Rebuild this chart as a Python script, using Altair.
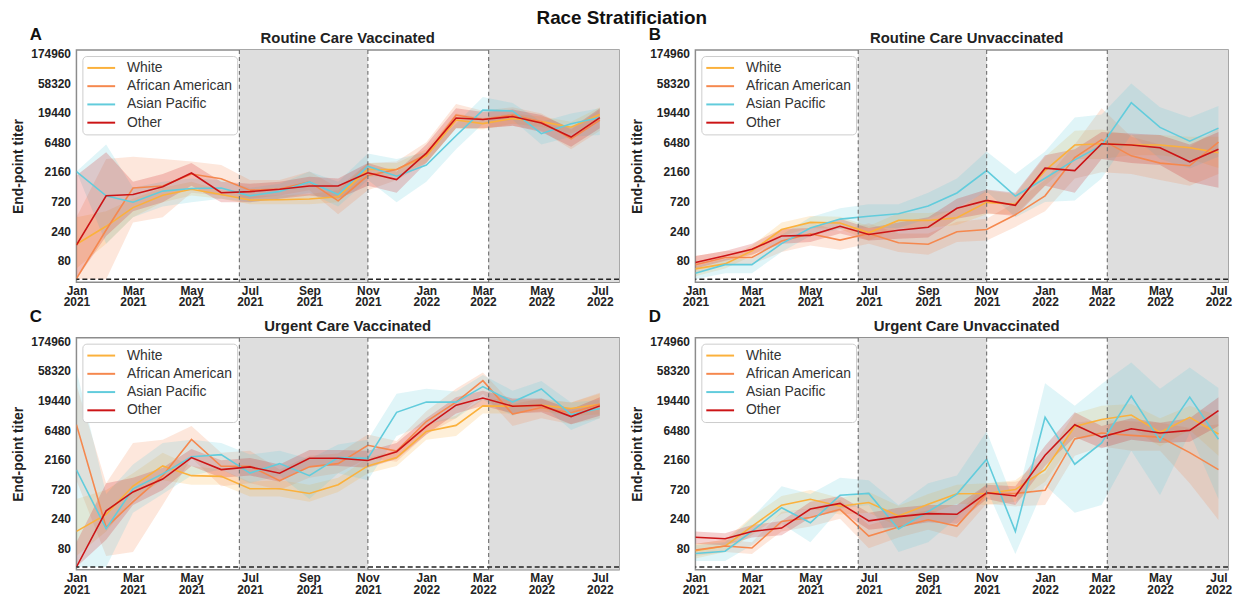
import altair as alt
import pandas as pd

FONT = "Liberation Sans"

MONTHS = ["2021-01-01", "2021-02-01", "2021-03-01", "2021-04-01", "2021-05-01",
          "2021-06-01", "2021-07-01", "2021-08-01", "2021-09-01", "2021-10-01",
          "2021-11-01", "2021-12-01", "2022-01-01", "2022-02-01", "2022-03-01",
          "2022-04-01", "2022-05-01", "2022-06-01", "2022-07-01"]
RACES = ["White", "African American", "Asian Pacific", "Other"]
COLORS = ["#FBB13C", "#F5884E", "#62CCDC", "#CC1416"]
Y_TICKS = [80, 240, 720, 2160, 6480, 19440, 58320, 174960]
X_TICKS = [(2021, 1), (2021, 3), (2021, 5), (2021, 7), (2021, 9), (2021, 11),
           (2022, 1), (2022, 3), (2022, 5), (2022, 7)]
SHADE_START = ["2021-06-20", "2022-03-07"]
SHADE_END = ["2021-11-01", "2022-07-31"]
VLINES = ["2021-06-20", "2021-11-01", "2022-03-07"]
LOD = [40]

# ---- A: Routine Care Vaccinated ----
RCV_WHITE = [147, 287, 575, 910, 1135, 935, 760, 770, 790, 860, 2360, 2360, 3900, 14900, 13000, 15700, 14000, 11400, 18300]
RCV_WHITE_LO = [60, 150, 400, 700, 900, 800, 650, 650, 650, 700, 1800, 1900, 3000, 11000, 10500, 13000, 11500, 9000, 14000]
RCV_WHITE_HI = [400, 500, 800, 1200, 1500, 1100, 900, 900, 950, 1100, 3000, 3000, 5000, 19000, 16000, 19000, 17000, 14000, 24000]
RCV_AA = [41, 250, 1190, 1280, 2000, 1680, 1100, 1150, 1490, 740, 1890, 2360, 4150, 17900, 15200, 17900, 14000, 7400, 14900]
RCV_AA_LO = [40, 40, 330, 400, 1000, 900, 800, 900, 1100, 450, 1100, 1600, 3000, 11000, 11000, 12000, 10000, 5000, 10000]
RCV_AA_HI = [400, 3500, 3800, 3500, 3200, 2800, 1600, 1600, 2200, 1200, 3000, 3200, 6500, 27000, 21000, 24000, 19000, 10500, 22000]
RCV_AP = [2190, 890, 700, 1060, 1170, 1190, 890, 1050, 1490, 935, 2670, 1840, 2790, 8300, 21500, 20800, 8950, 13000, 16300]
RCV_AP_LO = [2190, 150, 400, 600, 700, 800, 700, 800, 1000, 600, 1600, 700, 1500, 5000, 13000, 15000, 6000, 8000, 8500]
RCV_AP_HI = [2190, 6000, 1200, 1500, 1700, 1600, 1200, 1400, 2200, 1500, 4300, 3500, 4500, 13000, 35000, 28000, 14000, 19000, 23000]
RCV_OTHER = [143, 890, 935, 1250, 2080, 1000, 1040, 1135, 1280, 1280, 2100, 1630, 4350, 16000, 15200, 16900, 13300, 7900, 16300]
RCV_OTHER_LO = [40, 200, 500, 700, 1300, 700, 700, 800, 900, 800, 1300, 1000, 3000, 11000, 11000, 12000, 9500, 5500, 11000]
RCV_OTHER_HI = [1900, 4500, 1500, 2000, 3000, 1500, 1400, 1500, 1800, 1700, 3000, 2200, 6000, 23000, 20000, 22000, 18000, 11000, 23000]

# ---- B: Routine Care Unvaccinated ----
RCU_WHITE = [59, 71, 115, 254, 332, 325, 225, 357, 357, 395, 697, 650, 2270, 5870, 6150, 5870, 5870, 5300, 4430]
RCU_WHITE_LO = [45, 60, 95, 200, 270, 260, 170, 270, 270, 300, 450, 450, 1300, 3500, 3500, 4000, 4000, 3500, 2500]
RCU_WHITE_HI = [75, 85, 140, 330, 420, 410, 290, 470, 470, 520, 1100, 950, 3800, 10000, 10500, 8500, 8500, 8000, 8000]
RCU_AA = [69, 90, 90, 166, 217, 172, 220, 156, 147, 234, 254, 440, 890, 3700, 7200, 3930, 3000, 2720, 6540]
RCU_AA_LO = [50, 70, 70, 110, 140, 120, 150, 110, 100, 160, 170, 280, 500, 1700, 2140, 2000, 1600, 1300, 2000]
RCU_AA_HI = [95, 115, 115, 250, 330, 240, 320, 220, 220, 340, 380, 700, 1600, 6000, 23000, 8000, 6000, 5500, 11000]
RCU_AP = [50, 69, 69, 151, 270, 375, 418, 456, 608, 990, 2270, 880, 1710, 3390, 5800, 28300, 11300, 6780, 11000]
RCU_AP_LO = [40, 50, 50, 110, 200, 260, 270, 270, 380, 560, 1050, 400, 710, 750, 1700, 8700, 3500, 2460, 3800]
RCU_AP_HI = [65, 85, 85, 210, 400, 560, 650, 650, 1000, 1700, 4600, 2000, 4600, 16300, 18300, 58000, 24000, 16300, 25000]
RCU_OTHER = [75, 96, 122, 200, 205, 287, 212, 248, 277, 560, 750, 625, 2490, 2270, 6150, 5870, 5300, 3150, 5030]
RCU_OTHER_LO = [60, 80, 100, 150, 160, 220, 170, 180, 190, 380, 465, 420, 1300, 1000, 3500, 3000, 2800, 1500, 1200]
RCU_OTHER_HI = [95, 115, 150, 260, 270, 380, 270, 330, 400, 800, 1130, 1000, 4000, 5000, 9500, 9000, 8500, 6000, 9500]

# ---- C: Urgent Care Vaccinated ----
UCV_WHITE = [150, 283, 810, 1710, 1190, 1160, 730, 730, 615, 850, 1710, 2330, 6150, 7700, 15900, 15700, 16300, 14400, 16900]
UCV_WHITE_LO = [60, 150, 500, 1000, 850, 850, 550, 550, 450, 650, 1300, 1700, 4500, 5200, 12000, 12000, 13000, 11000, 11500]
UCV_WHITE_HI = [500, 700, 1300, 2800, 1700, 1500, 950, 1000, 850, 1100, 2300, 3100, 8000, 11000, 21000, 20000, 20000, 18000, 25000]
UCV_AA = [7900, 174, 450, 1190, 4560, 1690, 1690, 990, 1650, 1860, 3680, 2960, 8880, 18300, 40500, 11700, 15000, 12300, 16900]
UCV_AA_LO = [1000, 60, 70, 400, 2300, 800, 900, 700, 1100, 1300, 2300, 2000, 5500, 10000, 25000, 7500, 10000, 8000, 10000]
UCV_AA_HI = [35000, 900, 4000, 4500, 7500, 2800, 3000, 1500, 2500, 2700, 5500, 4300, 13000, 30000, 55000, 17000, 21000, 18000, 26000]
UCV_AP = [1470, 166, 730, 1270, 2410, 2600, 1310, 1860, 1190, 2330, 2260, 12500, 18300, 18300, 32500, 18300, 29800, 11500, 14400]
UCV_AP_LO = [40, 40, 300, 600, 1200, 1500, 900, 1200, 500, 1300, 1000, 5200, 8000, 10000, 20000, 11000, 17000, 6500, 10000]
UCV_AP_HI = [60000, 600, 1800, 4000, 4500, 4000, 2600, 3000, 2200, 3800, 4500, 25000, 30000, 27000, 50000, 28000, 40000, 18000, 20000]
UCV_OTHER = [40, 323, 650, 1050, 2330, 1490, 1650, 1300, 2270, 2270, 2090, 2900, 7400, 16300, 21300, 15700, 16300, 10700, 15900]
UCV_OTHER_LO = [40, 110, 400, 700, 1700, 1100, 1200, 950, 1700, 1700, 1600, 2200, 5500, 12000, 16000, 12000, 12500, 8000, 11000]
UCV_OTHER_HI = [100, 900, 1100, 1600, 3200, 2100, 2300, 1800, 3100, 3100, 3000, 4000, 10000, 22000, 28000, 21000, 21000, 14000, 22000]

# ---- D: Urgent Care Unvaccinated ----
UCU_WHITE = [73, 87, 181, 398, 496, 382, 440, 266, 410, 608, 615, 710, 1490, 7400, 9600, 11300, 5940, 10400, 5600]
UCU_WHITE_LO = [55, 70, 130, 290, 350, 280, 300, 180, 280, 420, 400, 450, 950, 4500, 5500, 7000, 3500, 6500, 2500]
UCU_WHITE_HI = [95, 110, 260, 560, 700, 520, 650, 390, 600, 850, 900, 1000, 2300, 12000, 16000, 17000, 10000, 16000, 11000]
UCU_AA = [75, 87, 81, 217, 251, 341, 126, 176, 231, 183, 615, 615, 690, 4660, 5800, 5320, 4980, 2800, 1490]
UCU_AA_LO = [60, 70, 65, 150, 180, 240, 80, 120, 160, 120, 420, 380, 400, 2500, 3500, 3000, 3000, 900, 230]
UCU_AA_HI = [95, 110, 100, 310, 350, 480, 190, 260, 330, 280, 900, 950, 1300, 8500, 9500, 9000, 8500, 7000, 8000]
UCU_AP = [66, 72, 150, 362, 207, 575, 615, 164, 313, 600, 2190, 150, 10400, 1820, 4010, 22900, 4370, 22000, 4600]
UCU_AP_LO = [50, 50, 90, 200, 100, 350, 400, 70, 100, 250, 720, 65, 830, 300, 400, 3000, 575, 5800, 500]
UCU_AP_HI = [90, 100, 250, 800, 600, 1100, 1000, 400, 900, 1200, 6150, 400, 37000, 16000, 36000, 80000, 30000, 66000, 31000]
UCU_OTHER = [121, 114, 150, 170, 344, 424, 222, 260, 290, 283, 630, 560, 2540, 7870, 4980, 6780, 5800, 6400, 13300]
UCU_OTHER_LO = [95, 90, 120, 130, 250, 320, 160, 180, 210, 200, 500, 400, 1700, 5000, 3300, 4500, 4000, 4200, 7500]
UCU_OTHER_HI = [150, 140, 190, 220, 450, 560, 300, 360, 400, 400, 850, 800, 3600, 12500, 7500, 10000, 8500, 10000, 22000]


def dt(y, m, d=1):
    return alt.DateTime(year=y, month=m, date=d, utc=True)


Y_SCALE = alt.Scale(type="log", domain=[36, 200000])

X_AXIS = alt.Axis(
    values=[dt(y, m) for y, m in X_TICKS],
    labelExpr="[utcFormat(datum.value, '%b'), utcFormat(datum.value, '%Y')]",
    labelFont=FONT, labelFontSize=12, labelFontWeight="bold", labelColor="#222222",
    labelLineHeight=12, labelPadding=3, labelAngle=0, labelFlush=False,
    labelOverlap=False, ticks=False, domain=False, grid=False, title=None,
)
Y_AXIS = alt.Axis(
    values=Y_TICKS, format="d",
    labelFont=FONT, labelFontSize=12, labelFontWeight="bold", labelColor="#222222",
    labelPadding=6, labelFlush=False, labelOverlap=False, ticks=False, domain=False,
    grid=False, title="End-point titer", titleFont=FONT, titleFontSize=14,
    titleFontWeight="bold", titleColor="#222222", titlePadding=5,
)

LEGEND = alt.Legend(
    title=None, orient="top-left", offset=6, fillColor="white",
    strokeColor="#cccccc", cornerRadius=4, padding=4,
    labelFont=FONT, labelFontSize=14, labelColor="#333333",
    symbolType="M-1,0L3,0", symbolStrokeWidth=2, symbolSize=196, symbolOpacity=1,
    labelOffset=25, rowPadding=3.4, labelLimit=300,
)

PANEL_H = 234


def panel(series, title, letter, letter_dy, width, x_end):
    rows = []
    for race, (vals, los, his) in zip(RACES, series):
        for d, v, lo, hi in zip(MONTHS, vals, los, his):
            rows.append({"date": d, "race": race, "value": v, "lo": lo, "hi": hi})
    df = pd.DataFrame(rows)
    shade = pd.DataFrame({"start": SHADE_START, "end": SHADE_END})
    vl = pd.DataFrame({"date": VLINES})
    lod = pd.DataFrame({"lod": LOD})
    lab = pd.DataFrame({"t": [letter]})
    ttl = pd.DataFrame({"t": [title]})

    x_scale = alt.Scale(type="utc", domain=[dt(2021, 1, 1), dt(*x_end)])
    x = alt.X("date:T", scale=x_scale, axis=X_AXIS)
    color = alt.Color("race:N", scale=alt.Scale(domain=RACES, range=COLORS),
                      legend=LEGEND)

    rect = alt.Chart(shade).mark_rect(color="#DEDEDE", clip=True).encode(
        x=alt.X("start:T", scale=x_scale, axis=X_AXIS), x2="end:T")
    bands = alt.Chart(df).mark_area(opacity=0.2, clip=True).encode(
        x=x,
        y=alt.Y("lo:Q", scale=Y_SCALE, axis=Y_AXIS),
        y2="hi:Q",
        color=color,
    )
    lines = alt.Chart(df).mark_line(strokeWidth=1.6, clip=True).encode(
        x=x,
        y=alt.Y("value:Q", scale=Y_SCALE, axis=Y_AXIS),
        color=color,
    )
    vrules = alt.Chart(vl).mark_rule(color="#777777", strokeWidth=1.2,
                                     strokeDash=[4, 3]).encode(
        x=alt.X("date:T", scale=x_scale, axis=X_AXIS))
    hrule = alt.Chart(lod).mark_rule(color="#222222", strokeWidth=1.5,
                                     strokeDash=[5, 3]).encode(
        y=alt.Y("lod:Q", scale=Y_SCALE, axis=Y_AXIS))
    letter_txt = alt.Chart(lab).mark_text(
        font=FONT, fontSize=17, fontWeight="bold", color="#111111",
        align="center", baseline="middle").encode(
        x=alt.value(-41), y=alt.value(letter_dy), text="t:N")
    title_txt = alt.Chart(ttl).mark_text(
        font=FONT, fontSize=15, fontWeight="bold", color="#222222",
        align="center", baseline="middle").encode(
        x=alt.value(547 / 2), y=alt.value(-12), text="t:N")

    return alt.layer(rect, bands, lines, vrules, hrule, letter_txt,
                     title_txt).properties(width=width, height=PANEL_H)


pA = panel([(RCV_WHITE, RCV_WHITE_LO, RCV_WHITE_HI), (RCV_AA, RCV_AA_LO, RCV_AA_HI),
            (RCV_AP, RCV_AP_LO, RCV_AP_HI), (RCV_OTHER, RCV_OTHER_LO, RCV_OTHER_HI)],
           "Routine Care Vaccinated", "A", -15, 547, (2022, 7, 21))
pB = panel([(RCU_WHITE, RCU_WHITE_LO, RCU_WHITE_HI), (RCU_AA, RCU_AA_LO, RCU_AA_HI),
            (RCU_AP, RCU_AP_LO, RCU_AP_HI), (RCU_OTHER, RCU_OTHER_LO, RCU_OTHER_HI)],
           "Routine Care Unvaccinated", "B", -15, 537, (2022, 7, 11))
pC = panel([(UCV_WHITE, UCV_WHITE_LO, UCV_WHITE_HI), (UCV_AA, UCV_AA_LO, UCV_AA_HI),
            (UCV_AP, UCV_AP_LO, UCV_AP_HI), (UCV_OTHER, UCV_OTHER_LO, UCV_OTHER_HI)],
           "Urgent Care Vaccinated", "C", -21, 547, (2022, 7, 21))
pD = panel([(UCU_WHITE, UCU_WHITE_LO, UCU_WHITE_HI), (UCU_AA, UCU_AA_LO, UCU_AA_HI),
            (UCU_AP, UCU_AP_LO, UCU_AP_HI), (UCU_OTHER, UCU_OTHER_LO, UCU_OTHER_HI)],
           "Urgent Care Unvaccinated", "D", -21, 537, (2022, 7, 11))

chart = alt.concat(
    pA, pB, pC, pD, columns=2, bounds="flush",
    spacing={"row": 56, "column": 77},
).resolve_scale(color="independent").properties(
    title=alt.TitleParams("Race Stratificiation", font=FONT, fontSize=19,
                          fontWeight="bold", color="#111111", anchor="middle",
                          offset=-2),
    padding={"left": 3, "top": -2, "right": 0, "bottom": 0},
).configure_view(stroke="#8c8c8c", strokeWidth=1.5)

chart.save("out.html", embed_options={"renderer": "svg", "actions": False})
